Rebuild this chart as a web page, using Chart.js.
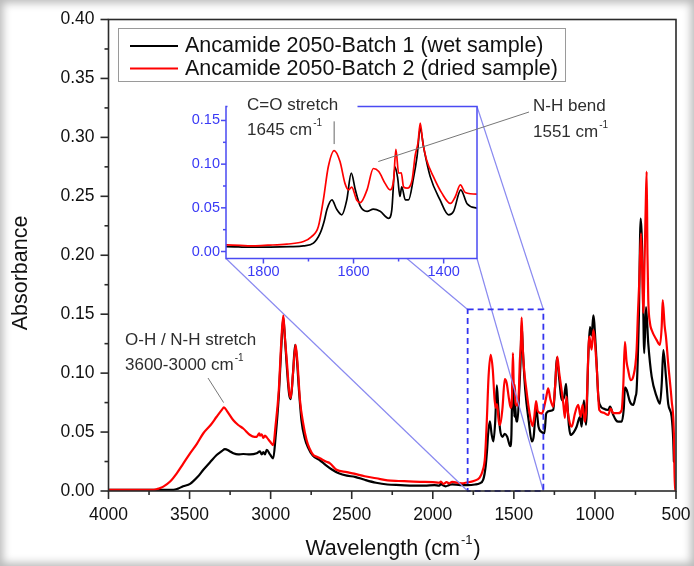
<!DOCTYPE html>
<html>
<head>
<meta charset="utf-8">
<title>FTIR - Ancamide 2050</title>
<script src="https://cdn.jsdelivr.net/npm/chart.js@4.4.1/dist/chart.umd.min.js"></script>
<style>
  html, body { margin: 0; padding: 0; background: #fff; }
  #wrap { position: relative; width: 694px; height: 566px; box-shadow: inset 0 0 9px 3px rgba(0, 0, 0, 0.28); }
  #wrap canvas { position: absolute; left: 0; top: 0; }
</style>
</head>
<body>
<div id="wrap">
  <canvas id="main-chart" width="694" height="566"></canvas>
  <canvas id="inset-chart" width="694" height="566"></canvas>
</div>
<script>
// ============================================================
// DATA (wavenumber in cm-1, absorbance)
// ============================================================

// Batch 1 (wet sample) - black
const wetWn = [
  4000, 3700, 3600, 3571, 3540, 3497, 3450, 3415, 3370, 3333,
  3300, 3282, 3255, 3230, 3200, 3169, 3127, 3086, 3066, 3055,
  3045, 3035, 3024, 3004, 2984, 2970, 2950, 2935, 2922, 2912,
  2900, 2886, 2876, 2862, 2849, 2840, 2825, 2810, 2790, 2770,
  2740, 2700, 2660, 2620, 2580, 2530, 2480, 2420, 2350, 2280,
  2200, 2120, 2050, 1990, 1960, 1950, 1940, 1920, 1900, 1881,
  1830, 1785, 1740, 1711, 1689, 1674, 1665, 1659, 1648, 1637,
  1626, 1615, 1605, 1596, 1585, 1570, 1556, 1541, 1522, 1515,
  1508, 1502, 1497, 1493, 1485, 1478, 1467, 1459, 1452, 1444,
  1430, 1408, 1389, 1378, 1362, 1348, 1326, 1312, 1300, 1277,
  1257, 1245, 1235, 1220, 1205, 1190, 1178, 1170, 1160, 1150,
  1130, 1113, 1092, 1082, 1068, 1055, 1041, 1031, 1020, 1010,
  994, 979, 965, 948, 918, 907, 887, 870, 856, 835,
  822, 815, 804, 784, 764, 750, 743, 729, 718, 706,
  696, 685, 671, 650, 619, 599, 588, 578, 562, 548,
  527, 517, 513
];
const wetAbs = [
  0.001, 0.001, 0.001, 0.002, 0.004, 0.006, 0.012, 0.018, 0.025, 0.0305,
  0.034, 0.0356, 0.034, 0.032, 0.031, 0.0314, 0.031, 0.032, 0.0336, 0.031,
  0.033, 0.031, 0.035, 0.031, 0.0277, 0.045, 0.08, 0.12, 0.147, 0.13,
  0.105, 0.082, 0.078, 0.1, 0.124, 0.115, 0.085, 0.06, 0.045, 0.037,
  0.03, 0.0265, 0.022, 0.018, 0.015, 0.013, 0.012, 0.0095, 0.007, 0.0055,
  0.005, 0.0045, 0.0045, 0.005, 0.0045, 0.006, 0.005, 0.004, 0.005, 0.0057,
  0.005, 0.005, 0.0055, 0.0065, 0.0096, 0.021, 0.035, 0.048, 0.059, 0.048,
  0.042, 0.059, 0.0897, 0.0706, 0.052, 0.046, 0.0485, 0.046, 0.038, 0.048,
  0.097, 0.084, 0.063, 0.074, 0.059, 0.059, 0.084, 0.109, 0.141, 0.118,
  0.086, 0.059, 0.042, 0.046, 0.0706, 0.0546, 0.0497, 0.049, 0.066, 0.068,
  0.069, 0.09, 0.113, 0.095, 0.077, 0.08, 0.091, 0.074, 0.055, 0.0475,
  0.05, 0.0545, 0.063, 0.0545, 0.077, 0.056, 0.114, 0.139, 0.132, 0.149,
  0.12, 0.08, 0.072, 0.07, 0.0687, 0.0715, 0.0645, 0.06, 0.0588, 0.0588,
  0.07, 0.088, 0.0857, 0.0757, 0.073, 0.08, 0.0857, 0.148, 0.231, 0.19,
  0.117, 0.156, 0.125, 0.097, 0.08, 0.074, 0.091, 0.1196, 0.097, 0.074,
  0.063, 0.043, 0.025
];

// Batch 2 (dried sample) - red
const driedWn = [
  4000, 3800, 3720, 3693, 3662, 3620, 3579, 3540, 3497, 3455,
  3415, 3370, 3333, 3300, 3288, 3270, 3230, 3200, 3169, 3127,
  3100, 3086, 3070, 3066, 3055, 3045, 3035, 3024, 3004, 2984,
  2970, 2950, 2935, 2922, 2912, 2900, 2886, 2876, 2862, 2846,
  2835, 2819, 2800, 2778, 2760, 2737, 2715, 2696, 2660, 2634,
  2594, 2530, 2485, 2420, 2349, 2280, 2212, 2150, 2080, 2000,
  1960, 1950, 1935, 1915, 1900, 1881, 1822, 1790, 1748, 1711,
  1693, 1678, 1667, 1656, 1643, 1630, 1619, 1611, 1604, 1593,
  1585, 1570, 1556, 1544, 1530, 1519, 1511, 1506, 1500, 1494,
  1489, 1481, 1470, 1463, 1457, 1452, 1446, 1438, 1423, 1404,
  1385, 1374, 1363, 1352, 1326, 1312, 1300, 1288, 1275, 1257,
  1245, 1232, 1220, 1205, 1195, 1185, 1176, 1168, 1154, 1143,
  1123, 1103, 1088, 1076, 1062, 1051, 1035, 1020, 1010, 989,
  973, 948, 918, 903, 887, 856, 835, 825, 815, 805,
  795, 780, 764, 743, 735, 727, 716, 709, 702, 693,
  687, 681, 676, 671, 660, 650, 619, 599, 588, 582,
  570, 562, 548, 527, 513, 507, 500
];
const driedAbs = [
  0.001, 0.001, 0.001, 0.002, 0.0037, 0.008, 0.015, 0.023, 0.032, 0.04,
  0.049, 0.056, 0.063, 0.069, 0.071, 0.068, 0.06, 0.056, 0.053, 0.0475,
  0.046, 0.046, 0.049, 0.047, 0.048, 0.045, 0.047, 0.0455, 0.042, 0.039,
  0.055, 0.085, 0.125, 0.149, 0.13, 0.11, 0.085, 0.079, 0.1, 0.124,
  0.11, 0.077, 0.058, 0.043, 0.036, 0.0305, 0.029, 0.0277, 0.025, 0.0235,
  0.018, 0.016, 0.0147, 0.0125, 0.0108, 0.009, 0.0085, 0.0082, 0.0078, 0.0075,
  0.007, 0.008, 0.006, 0.0075, 0.0065, 0.0077, 0.0065, 0.0072, 0.0085, 0.0114,
  0.017, 0.0286, 0.059, 0.097, 0.1156, 0.103, 0.078, 0.0706, 0.0737, 0.059,
  0.056, 0.0706, 0.095, 0.0915, 0.078, 0.0706, 0.082, 0.117, 0.0897, 0.09,
  0.074, 0.0725, 0.082, 0.1106, 0.124, 0.147, 0.124, 0.105, 0.086, 0.0668,
  0.055, 0.063, 0.0763, 0.0675, 0.0657, 0.072, 0.08, 0.087, 0.078, 0.0715,
  0.09, 0.114, 0.1, 0.085, 0.074, 0.062, 0.08, 0.068, 0.057, 0.0545,
  0.066, 0.073, 0.063, 0.073, 0.0588, 0.074, 0.131, 0.12, 0.1366, 0.105,
  0.0687, 0.0665, 0.0645, 0.07, 0.066, 0.066, 0.0687, 0.09, 0.1266, 0.11,
  0.1026, 0.094, 0.097, 0.1196, 0.15, 0.176, 0.2186, 0.19, 0.151, 0.2,
  0.24, 0.271, 0.2, 0.162, 0.142, 0.1366, 0.128, 0.124, 0.14, 0.162,
  0.14, 0.131, 0.108, 0.077, 0.049, 0.0, 0.0
];

const seriesLabels = ['Ancamide 2050-Batch 1 (wet sample)', 'Ancamide 2050-Batch 2 (dried sample)'];

// Tick labels
const mainXTicks = [4000, 3500, 3000, 2500, 2000, 1500, 1000, 500];
const mainYTicks = [0, 0.05, 0.1, 0.15, 0.2, 0.25, 0.3, 0.35, 0.4];
const insetXTicks = [1800, 1600, 1400];
const insetYTicks = [0, 0.05, 0.1, 0.15];

// Zoomed window (wavenumber from/to, absorbance from/to)
const zoomWn = [1785, 1318];
const zoomAbs = [0, 0.154];

// ============================================================
// STYLE
// ============================================================
const FONT = '"Liberation Sans", Arial, Helvetica, sans-serif';
const COLORS = {
  wet: '#000000',
  dried: '#ff0000',
  axis: '#2a2a2a',
  text: '#111111',
  note: '#2e2e2e',
  insetAxis: '#4a4af2',
  insetText: '#3a3af5',
  zoomBox: '#3434ee',
  connector: '#8a8af0'
};

let insetChart = null;

function toPoints(xs, ys) {
  return xs.map((x, i) => ({ x, y: ys[i] }));
}

function minorsOf(ticks) {
  return ticks.slice(1).map((v, i) => (v + ticks[i]) / 2);
}

function line(ctx, x1, y1, x2, y2) {
  ctx.beginPath();
  ctx.moveTo(x1, y1);
  ctx.lineTo(x2, y2);
  ctx.stroke();
}

// text with a "-1" style superscript; align 'left' or 'center'
function supText(ctx, base, sup, x, y, size, align, tail) {
  ctx.font = size + 'px ' + FONT;
  const w1 = ctx.measureText(base).width;
  const w3 = tail ? ctx.measureText(tail).width : 0;
  ctx.font = Math.round(size * 0.6) + 'px ' + FONT;
  const w2 = ctx.measureText(sup).width;
  const start = align === 'center' ? x - (w1 + w2 + w3 + 2) / 2 : x;
  ctx.textAlign = 'left';
  ctx.textBaseline = 'middle';
  ctx.font = size + 'px ' + FONT;
  ctx.fillText(base, start, y);
  if (tail) ctx.fillText(tail, start + w1 + w2 + 2, y);
  ctx.font = Math.round(size * 0.6) + 'px ' + FONT;
  ctx.fillText(sup, start + w1 + 1, y - size * 0.4);
}

function drawAxisTicks(ctx, chart, majorX, majorY, len, minorLen) {
  const { chartArea: a, scales: { x, y } } = chart;
  majorX.forEach(v => { const p = x.getPixelForValue(v); line(ctx, p, a.bottom, p, a.bottom + len); });
  minorsOf(majorX).forEach(v => { const p = x.getPixelForValue(v); line(ctx, p, a.bottom, p, a.bottom + minorLen); });
  majorY.forEach(v => { const p = y.getPixelForValue(v); line(ctx, a.left, p, a.left - len, p); });
  minorsOf(majorY).concat([majorY[majorY.length - 1] + (majorY[1] - majorY[0]) / 2])
    .filter(v => v <= y.max)
    .forEach(v => { const p = y.getPixelForValue(v); line(ctx, a.left, p, a.left - minorLen, p); });
}

// ============================================================
// PLUGINS
// ============================================================
const mainDecor = {
  id: 'mainDecor',
  afterDatasetsDraw(chart) {
    const { ctx, scales: { x, y } } = chart;
    const bx1 = x.getPixelForValue(zoomWn[0]);
    const bx2 = x.getPixelForValue(zoomWn[1]);
    const byTop = y.getPixelForValue(zoomAbs[1]);
    const byBot = y.getPixelForValue(zoomAbs[0]);
    ctx.save();
    // connector lines to the inset corners
    if (insetChart) {
      const ia = insetChart.chartArea;
      ctx.strokeStyle = COLORS.connector;
      ctx.lineWidth = 1.2;
      line(ctx, bx1, byTop, ia.left, ia.top);
      line(ctx, bx1, byBot, ia.left, ia.bottom);
      line(ctx, bx2, byTop, ia.right, ia.top);
      line(ctx, bx2, byBot, ia.right, ia.bottom);
    }
    // dashed zoom box
    ctx.strokeStyle = COLORS.zoomBox;
    ctx.lineWidth = 1.8;
    ctx.setLineDash([6, 4]);
    ctx.strokeRect(bx1, byTop, bx2 - bx1, byBot - byTop);
    ctx.restore();
  },
  afterDraw(chart) {
    const { ctx, chartArea: a, scales: { x, y } } = chart;
    ctx.save();
    // frame + ticks
    ctx.strokeStyle = COLORS.axis;
    ctx.lineWidth = 1.6;
    ctx.strokeRect(a.left, a.top, a.right - a.left, a.bottom - a.top);
    drawAxisTicks(ctx, chart, mainXTicks, mainYTicks, 8, 4);

    // axis titles
    ctx.fillStyle = COLORS.text;
    supText(ctx, 'Wavelength (cm', '-1', 393, 549, 21.5, 'center', ')');
    ctx.save();
    ctx.font = '21.5px ' + FONT;
    ctx.translate(21, 273);
    ctx.rotate(-Math.PI / 2);
    ctx.textAlign = 'center';
    ctx.textBaseline = 'middle';
    ctx.fillText('Absorbance', 0, 0);
    ctx.restore();

    // legend
    ctx.fillStyle = '#ffffff';
    ctx.fillRect(118, 28, 448, 53.5);
    ctx.strokeStyle = '#9a9a9a';
    ctx.lineWidth = 1;
    ctx.strokeRect(118.5, 28.5, 447, 53);
    [COLORS.wet, COLORS.dried].forEach((c, i) => {
      const ly = 46 + i * 22.5;
      ctx.strokeStyle = c;
      ctx.lineWidth = 2;
      line(ctx, 130, ly, 178, ly);
      ctx.fillStyle = COLORS.text;
      ctx.font = '21.5px ' + FONT;
      ctx.textAlign = 'left';
      ctx.textBaseline = 'middle';
      ctx.fillText(seriesLabels[i], 185, ly + 0.5);
    });

    // O-H / N-H annotation
    ctx.fillStyle = COLORS.note;
    ctx.font = '17px ' + FONT;
    ctx.textAlign = 'left';
    ctx.textBaseline = 'middle';
    ctx.fillText('O-H / N-H stretch', 125, 340);
    supText(ctx, '3600-3000 cm', '-1', 125, 365, 17, 'left');
    ctx.strokeStyle = '#777';
    ctx.lineWidth = 1;
    line(ctx, 208, 378, x.getPixelForValue(3290), y.getPixelForValue(0.075));
    ctx.restore();
  }
};

const insetDecor = {
  id: 'insetDecor',
  beforeDraw(chart) {
    const { ctx, chartArea: a } = chart;
    ctx.save();
    ctx.fillStyle = '#ffffff';
    ctx.fillRect(a.left, a.top, a.right - a.left, a.bottom - a.top);
    ctx.restore();
  },
  afterDraw(chart) {
    const { ctx, chartArea: a, scales: { x, y } } = chart;
    ctx.save();
    ctx.strokeStyle = COLORS.insetAxis;
    ctx.lineWidth = 1.5;
    ctx.strokeRect(a.left, a.top, a.right - a.left, a.bottom - a.top);
    drawAxisTicks(ctx, chart, insetXTicks, insetYTicks, 5, 3);

    // C=O stretch label (covers the top frame)
    ctx.fillStyle = '#ffffff';
    ctx.fillRect(a.left + 1.5, 94, 130, 22);
    ctx.fillStyle = COLORS.note;
    ctx.font = '17px ' + FONT;
    ctx.textAlign = 'left';
    ctx.textBaseline = 'middle';
    ctx.fillText('C=O stretch', 247, 105);
    supText(ctx, '1645 cm', '-1', 247, 130, 17, 'left');
    ctx.strokeStyle = '#666';
    ctx.lineWidth = 1;
    const cx = x.getPixelForValue(1643);
    line(ctx, cx, y.getPixelForValue(0.149), cx, y.getPixelForValue(0.123));

    // N-H bend label
    ctx.fillStyle = COLORS.note;
    ctx.font = '17px ' + FONT;
    ctx.fillText('N-H bend', 533, 106);
    supText(ctx, '1551 cm', '-1', 533, 132, 17, 'left');
    ctx.strokeStyle = '#777';
    line(ctx, 529, 112, x.getPixelForValue(1545), y.getPixelForValue(0.103));
    ctx.restore();
  }
};

// ============================================================
// CHARTS
// ============================================================
function makeDatasets(width) {
  return [
    {
      label: seriesLabels[1],
      data: toPoints(driedWn, driedAbs),
      borderColor: COLORS.dried,
      borderWidth: width
    },
    {
      label: seriesLabels[0],
      data: toPoints(wetWn, wetAbs),
      borderColor: COLORS.wet,
      borderWidth: width
    }
  ];
}

function axisOptions(opts) {
  return {
    type: 'linear',
    reverse: !!opts.reverse,
    min: opts.min,
    max: opts.max,
    afterBuildTicks: s => { s.ticks = opts.ticks.map(v => ({ value: v })); },
    afterFit: s => {
      if (opts.width) s.width = opts.width;
      if (opts.height) s.height = opts.height;
      // layout.padding alone decides where the plot area sits
      s.paddingLeft = s.paddingRight = s.paddingTop = s.paddingBottom = 0;
    },
    grid: { display: false, drawTicks: false },
    border: { display: false },
    ticks: {
      autoSkip: false,
      maxRotation: 0,
      padding: opts.padding,
      color: opts.color,
      font: { family: FONT, size: opts.size },
      callback: opts.format
    }
  };
}

function baseOptions(padding, scales) {
  return {
    responsive: false,
    animation: false,
    events: [],
    layout: { padding },
    plugins: { legend: { display: false }, tooltip: { enabled: false } },
    elements: {
      point: { radius: 0 },
      line: { cubicInterpolationMode: 'monotone', borderCapStyle: 'round', borderJoinStyle: 'round' }
    },
    scales
  };
}

insetChart = new Chart(document.getElementById('inset-chart'), {
  type: 'line',
  data: { datasets: makeDatasets(1.7) },
  options: baseOptions(
    { left: 186, top: 106.5, right: 217, bottom: 282.5 },
    {
      x: axisOptions({ reverse: true, min: 1326, max: 1883, ticks: insetXTicks, height: 25, padding: 5,
        color: COLORS.insetText, size: 14.5, format: v => String(v) }),
      y: axisOptions({ min: -0.008, max: 0.166, ticks: insetYTicks, width: 40, padding: 6,
        color: COLORS.insetText, size: 14.5, format: v => v.toFixed(2) })
    }
  ),
  plugins: [insetDecor]
});

const mainChart = new Chart(document.getElementById('main-chart'), {
  type: 'line',
  data: { datasets: makeDatasets(2.2) },
  options: baseOptions(
    { left: 0, top: 19.5, right: 18, bottom: 0 },
    {
      x: axisOptions({ reverse: true, min: 500, max: 4000, ticks: mainXTicks, height: 75, padding: 14,
        color: COLORS.text, size: 17.5, format: v => String(v) }),
      y: axisOptions({ min: 0, max: 0.4, ticks: mainYTicks, width: 108.5, padding: 14,
        color: COLORS.text, size: 17.5, format: v => v.toFixed(2) })
    }
  ),
  plugins: [mainDecor]
});
</script>
</body>
</html>
